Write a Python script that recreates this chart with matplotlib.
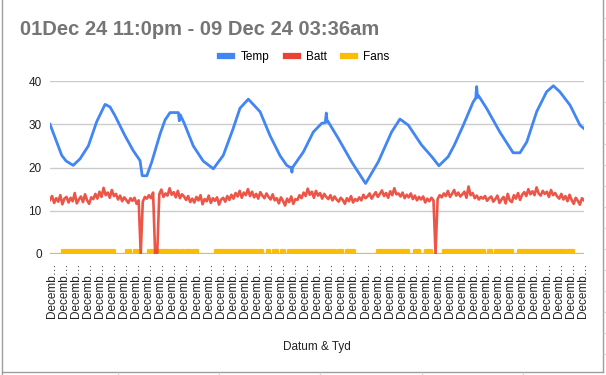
import numpy as np
import matplotlib
matplotlib.use("Agg")
import matplotlib.pyplot as plt
from matplotlib.lines import Line2D

plt.rcParams['font.family'] = ['Liberation Sans', 'DejaVu Sans']

# data (hours since 01 Dec 23:00)
title = "01Dec 24 11:0pm - 09 Dec 24 03:36am"
span_hours = 172.6
n_ticks = 45
tick_label = "Decemb\u2026"

temp_h = [0.0, 3.8, 5.2, 7.5, 9.7, 12.4, 15.1, 17.8, 19.4, 21.0, 24.2, 26.9, 29.1, 29.8, 31.3,
          32.9, 35.6, 37.2, 38.8, 41.5, 41.8, 42.1, 43.4, 46.3, 49.5, 52.8, 56.0, 59.2, 61.4,
          64.1, 67.9, 71.1, 74.3, 76.5, 78.0, 78.2, 78.4, 81.9, 85.1, 87.8, 89.0, 89.3, 89.6,
          89.9, 93.2, 97.5, 102.0, 106.1, 110.4, 113.1, 115.8, 120.1, 123.4, 125.7, 128.7,
          130.7, 133.6, 136.8, 137.6, 137.9, 138.2, 138.5, 141.1, 145.4, 149.7, 151.9, 154.1,
          157.3, 160.5, 162.7, 164.8, 168.1, 171.3, 172.6]
temp_v = [30.0, 22.8, 21.5, 20.5, 22.0, 25.0, 30.6, 34.6, 34.0, 32.0, 27.4, 23.9, 21.6, 18.1, 18.1,
          21.3, 27.8, 31.0, 32.7, 32.7, 30.8, 32.2, 30.2, 25.0, 21.5, 19.7, 22.8, 29.0, 33.7,
          35.8, 32.9, 27.4, 22.8, 20.5, 19.9, 18.9, 20.0, 23.6, 28.2, 30.2, 30.4, 32.6, 30.5,
          30.6, 26.7, 21.3, 16.3, 21.3, 28.2, 31.2, 29.8, 25.2, 22.5, 20.4, 22.5, 25.2, 29.8,
          35.2, 36.0, 38.7, 36.2, 36.6, 33.7, 28.2, 23.4, 23.4, 25.9, 32.9, 37.5, 38.9, 37.5,
          34.4, 29.8, 29.0]

batt = [12.5, 13.4, 11.8, 12.9, 12.1, 13.6, 11.5, 12.8, 13.2, 11.9,
        13.0, 12.2, 14.1, 11.7, 12.6, 13.3, 12.0, 13.8, 12.4, 11.6,
        13.1, 12.7, 13.9, 12.8, 14.4, 13.2, 15.3, 13.6, 14.2, 13.0,
        14.8, 13.4, 13.9, 12.6, 13.5, 12.2, 13.1, 12.5, 11.8, 12.9,
        12.3, 13.0, 11.6, 12.4, 0.0, 12.1, 13.2, 12.8, 13.6, 12.9,
        14.2, 0.0, 0.0, 13.8, 14.9, 13.2, 14.0, 13.5, 15.2, 13.7,
        14.3, 13.1, 14.6, 12.9, 13.8, 13.3, 12.5, 13.4, 12.0, 12.8,
        11.9, 13.2, 12.4, 13.6, 11.5, 12.7, 12.2, 13.5, 11.8, 12.9,
        12.3, 13.1, 11.4, 12.6, 13.0, 12.1, 13.4, 12.5, 13.7, 12.8,
        14.1, 13.3, 14.6, 13.0, 14.2, 13.6, 15.0, 13.4, 14.4, 13.1,
        13.9, 12.8, 14.3, 13.5, 12.9, 14.0, 13.2, 12.6, 13.8, 12.4,
        12.9, 11.7, 13.1, 12.3, 11.2, 12.8, 12.0, 13.3, 11.6, 12.7,
        12.5, 13.6, 12.9, 14.2, 13.4, 15.1, 13.7, 14.4, 13.0, 14.6,
        13.5, 14.1, 12.8, 13.9, 13.2, 12.7, 13.6, 12.4, 13.3, 12.6,
        12.1, 13.0, 12.5, 11.6, 12.9, 12.2, 13.4, 11.9, 12.7, 12.3,
        13.1, 12.4, 13.7, 12.9, 13.3, 14.0, 12.8, 13.6, 14.3, 13.2,
        13.9, 14.7, 13.4, 14.1, 13.0, 14.5, 13.6, 15.2, 13.8, 14.0,
        13.3, 14.2, 12.9, 13.7, 13.1, 14.0, 12.7, 13.5, 12.4, 13.2,
        12.6, 13.3, 11.9, 12.8, 12.2, 13.0, 12.4, 0.0, 12.7, 13.6,
        13.1, 14.0, 13.4, 14.6, 13.2, 13.9, 14.8, 13.5, 14.2, 13.3,
        13.8, 14.4, 13.0, 15.6, 13.6, 14.1, 12.9, 13.5, 12.6, 13.2,
        12.8, 13.4, 12.3, 12.9, 13.3, 12.1, 12.7, 13.5, 11.8, 12.6,
        13.2, 11.7, 13.9, 12.4, 12.0, 13.6, 12.8, 14.1, 12.5, 13.7,
        14.3, 13.4, 15.0, 13.8, 14.5, 13.6, 15.4, 14.0, 13.5, 14.6,
        13.9, 14.4, 13.2, 14.8, 13.6, 14.1, 13.3, 12.8, 13.9, 12.6,
        13.4, 12.2, 13.7, 12.5, 11.6, 13.0, 12.3, 11.4, 12.9, 12.4]

fans_start = [3.8, 24.6, 27.1, 28.8, 31.8, 40.7, 42.3, 44.0, 46.2, 53.3, 67.5, 70.0, 72.1,
              74.7, 76.9, 93.2, 95.7, 105.6, 117.6, 121.2, 127.0, 141.7, 143.8, 146.5,
              151.4, 167.2]
fans_end = [21.0, 26.2, 28.3, 29.4, 40.4, 41.7, 43.3, 45.6, 47.7, 66.8, 68.8, 71.1, 73.7,
            75.9, 92.4, 94.8, 98.6, 116.1, 119.7, 123.4, 140.6, 142.9, 146.0, 149.7,
            166.4, 169.5]

c_temp = "#4285F4"
c_batt = "#EA4335"
c_fans = "#FBBC04"

# fan on/off as step series
fx = [0.0]
fy = [0]
for s, e in zip(fans_start, fans_end):
    fx += [s, s, e, e]
    fy += [0, 1, 1, 0]
fx.append(span_hours)
fy.append(0)

batt_h = np.linspace(0, span_hours, len(batt))

fig = plt.figure(figsize=(6.06, 3.75), dpi=100)
ax = fig.add_axes([50 / 606, 1 - 254 / 375, 534 / 606, 173 / 375])

ax.fill_between(fx, fy, 0, color=c_fans, lw=0, zorder=2)
ax.plot(fx, fy, color=c_fans, lw=1.6, zorder=2)
ax.plot(batt_h, batt, color=c_batt, lw=1.9, alpha=0.9, zorder=3)
ax.plot(temp_h, temp_v, color=c_temp, lw=2.0, zorder=4)

ax.set_xlim(0, span_hours)
ax.set_ylim(0, 40)
ax.set_yticks([0, 10, 20, 30, 40])
ax.tick_params(axis='y', length=0, pad=6, labelsize=8.5, labelcolor="#222222")
ax.grid(axis='y', color="#cccccc", lw=1)
ax.set_axisbelow(True)
for sp in ax.spines.values():
    sp.set_visible(False)

ticks = np.linspace(0.55, 172.2, n_ticks)
ax.set_xticks(ticks)
ax.set_xticklabels([tick_label] * n_ticks, rotation=90, fontsize=8.5, color="#222222")
ax.tick_params(axis='x', length=0, pad=6)
ax.set_xlabel("Datum & Tyd", fontsize=8.5, color="#222222", labelpad=17)

fig.text(20 / 606, 1 - 35 / 375, title, fontsize=14.5, fontweight='bold', color="#757575")

handles = [Line2D([], [], color=c, lw=4.5) for c in (c_temp, c_batt, c_fans)]
fig.legend(handles, ["Temp", "Batt", "Fans"], loc='center', bbox_to_anchor=(305 / 606, 1 - 57 / 375),
           ncol=3, frameon=False, fontsize=8.5, handlelength=1.0, handletextpad=0.7,
           columnspacing=1.4)

# chart frame and sheet grid around it
fig.add_artist(Line2D([2.5 / 606, 2.5 / 606], [0, 1], color="#9e9e9e", lw=1))
fig.add_artist(Line2D([602.5 / 606, 602.5 / 606], [1 - 371.5 / 375, 1], color="#9e9e9e", lw=1))
fig.add_artist(Line2D([2.5 / 606, 602.5 / 606], [1 - 371.5 / 375] * 2, color="#9e9e9e", lw=1))
for gx in [118, 219, 320, 422, 523]:
    fig.add_artist(Line2D([gx / 606] * 2, [0, 1 - 372.5 / 375], color="#dadada", lw=1))
for gy in range(18, 372, 21):
    fig.add_artist(Line2D([603.5 / 606, 1], [1 - gy / 375] * 2, color="#dadada", lw=1))

fig.savefig("out.png", dpi=100)
